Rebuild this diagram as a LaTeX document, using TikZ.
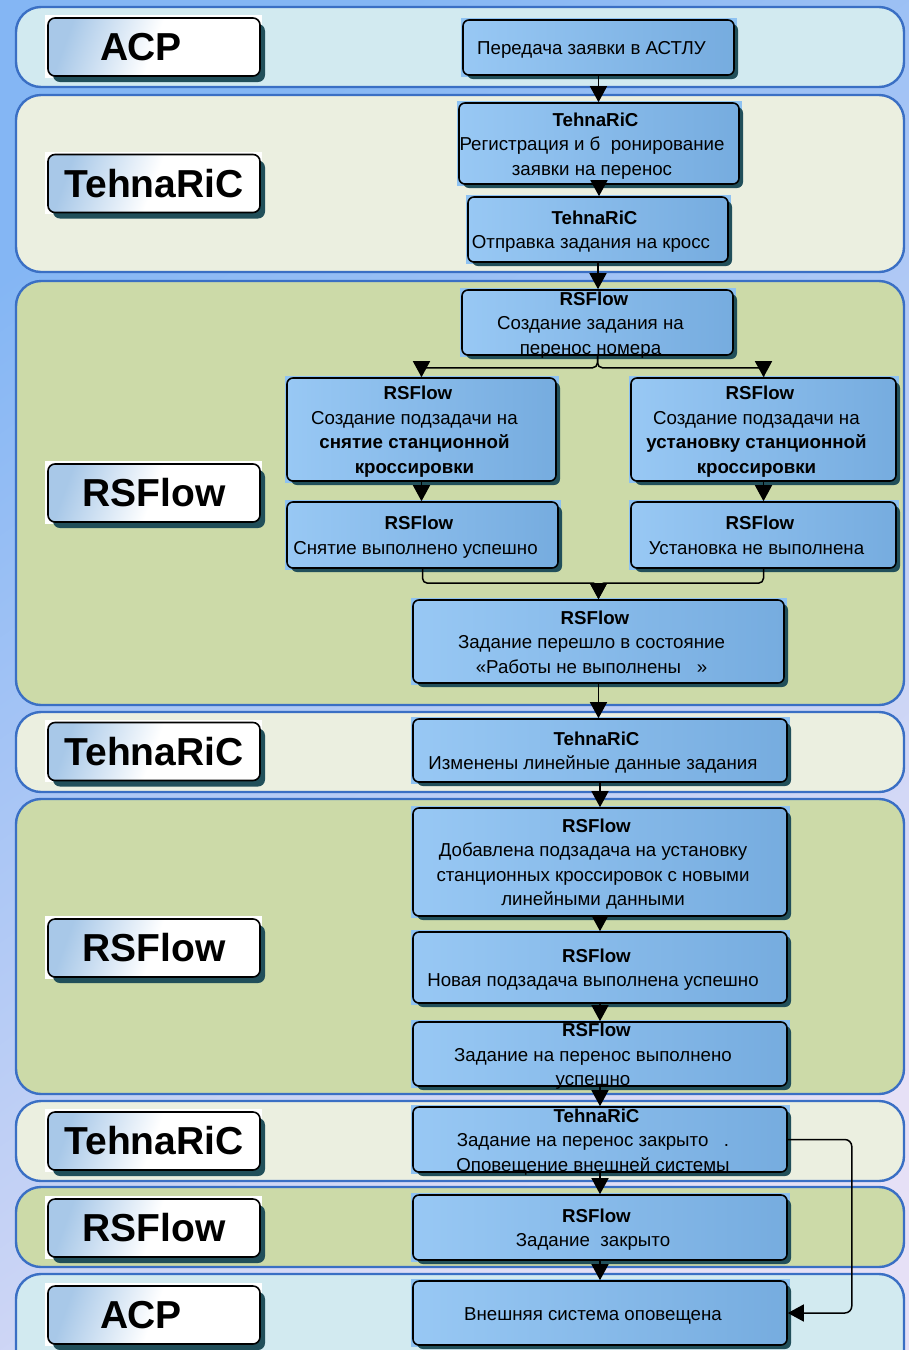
\documentclass[tikz,border=0pt]{standalone}
\usepackage{fontspec}
\setmainfont{Liberation Sans}
\usetikzlibrary{shadows,arrows.meta}
\pgfdeclarelayer{lanes}
\pgfdeclarelayer{glow}
\pgfsetlayers{lanes,glow,main}
\definecolor{bgA}{HTML}{84B6F4}
\definecolor{bgB}{HTML}{E6E0F6}
\definecolor{laneC}{HTML}{D2EAF0}
\definecolor{laneT}{HTML}{EBEFE0}
\definecolor{laneR}{HTML}{CCDAA8}
\definecolor{laneB}{HTML}{3A6FC4}
\definecolor{taskA}{HTML}{98C8F4}
\definecolor{taskB}{HTML}{76ACDF}
\definecolor{shad}{HTML}{214F5A}
\definecolor{glowc}{HTML}{8EC2F2}
\definecolor{labA}{HTML}{A8C8E8}
\newcommand\ttlline[1]{\textbf{#1}\kern-7pt}
\tikzset{
  lane/.style={draw=laneB, line width=2.4pt, rounded corners=25pt},
  task/.style={draw=black, line width=1.6pt, rounded corners=6pt,
    left color=taskA, right color=taskB,
    general shadow={fill=shad, shadow xshift=4pt, shadow yshift=-4pt},
    inner sep=0pt},
  txt/.style={align=center, inner sep=0pt, xshift=-7pt, yshift=-2.5pt,
    font=\fontsize{18.7}{24.5}\selectfont,
    execute at begin node={\rule{0pt}{13.5pt}},
    execute at end node={\rule[-4.2pt]{0pt}{4.2pt}}},
  lab/.style={draw=black, line width=1.6pt, rounded corners=7pt,
    top color=labA, bottom color=white, middle color=white, shading angle=70,
    general shadow={fill=shad, shadow xshift=5pt, shadow yshift=-6pt},
    minimum width=212pt, minimum height=58pt, inner sep=0pt,
    font=\bfseries\fontsize{39}{40}\selectfont},
  arr/.style={draw=black, line width=1.5pt, rounded corners=5pt,
    -{Triangle[length=16pt,width=17pt]}},
}
\begin{document}
\begin{tikzpicture}[x=1pt,y=-1pt]
\useasboundingbox (0,0) rectangle (909,1350);
\begin{pgfonlayer}{lanes}
\shade[top color=bgA, bottom color=bgB, shading angle=35] (0,0) rectangle (909,1350);
\draw[lane, fill=laneC] (16,7) rectangle (904,87);
\draw[lane, fill=laneT] (16,95) rectangle (904,272);
\draw[lane, fill=laneR] (16,281) rectangle (904,705);
\draw[lane, fill=laneT] (16,712) rectangle (904,792);
\draw[lane, fill=laneR] (16,799) rectangle (904,1094);
\draw[lane, fill=laneT] (16,1101) rectangle (904,1181);
\draw[lane, fill=laneR] (16,1187) rectangle (904,1267);
\draw[lane, fill=laneC] (16,1274) rectangle (904,1390);
\end{pgfonlayer}

% lane labels
\node[lab] (l1) at (154,47) {АСР\kern26pt};
\node[lab] (l2) at (154,183.5) {TehnaRiC};
\node[lab] (l3) at (154,493) {RSFlow};
\node[lab] (l4) at (154,751.5) {TehnaRiC};
\node[lab] (l5) at (154,948) {RSFlow};
\node[lab] (l6) at (154,1141) {TehnaRiC};
\node[lab] (l7) at (154,1228) {RSFlow};
\node[lab] (l8) at (154,1315) {АСР\kern26pt};

% tasks
\node[task, minimum width=271pt, minimum height=55pt, label={[txt]center:{Передача заявки в АСТЛУ}}] (b1) at (598.5,47.5) {};
\node[task, minimum width=280pt, minimum height=81pt, label={[txt]center:{\ttlline{TehnaRiC}\\Регистрация и б~~ронирование\\заявки на перенос}}] (b2) at (599,143.5) {};
\node[task, minimum width=260pt, minimum height=65pt, label={[txt]center:{\ttlline{TehnaRiC}\\Отправка задания на кросс}}] (b3) at (598,229.5) {};
\node[task, minimum width=271pt, minimum height=65pt, label={[txt]center:{\ttlline{RSFlow}\\Создание задания на\\перенос номера}}] (b4) at (597.5,322.5) {};
\node[task, minimum width=269pt, minimum height=103pt, label={[txt]center:{\ttlline{RSFlow}\\Создание подзадачи на\\\textbf{снятие станционной}\\\textbf{кроссировки}}}] (b5) at (421.5,429.5) {};
\node[task, minimum width=265pt, minimum height=103pt, label={[txt]center:{\ttlline{RSFlow}\\Создание подзадачи на\\\textbf{установку станционной}\\\textbf{кроссировки}}}] (b6) at (763.5,429.5) {};
\node[task, minimum width=271pt, minimum height=66pt, label={[txt]center:{\ttlline{RSFlow}\\Снятие выполнено успешно}}] (b7) at (422.5,535) {};
\node[task, minimum width=265pt, minimum height=66pt, label={[txt]center:{\ttlline{RSFlow}\\Установка не выполнена}}] (b8) at (763.5,535) {};
\node[task, minimum width=371pt, minimum height=83pt, label={[txt]center:{\ttlline{RSFlow}\\Задание перешло в состояние\\«Работы не выполнены~~~»}}] (b9) at (598.5,641.5) {};
\node[task, minimum width=374pt, minimum height=63pt, label={[txt]center:{\ttlline{TehnaRiC}\\Изменены линейные данные задания}}] (b10) at (600,750.5) {};
\node[task, minimum width=374pt, minimum height=108pt, label={[txt]center:{\ttlline{RSFlow}\\Добавлена подзадача на установку\\станционных кроссировок с новыми\\линейными данными}}] (b11) at (600,862) {};
\node[task, minimum width=374pt, minimum height=71pt, label={[txt]center:{\ttlline{RSFlow}\\Новая подзадача выполнена успешно}}] (b12) at (600,967.5) {};
\node[task, minimum width=374pt, minimum height=64pt, label={[txt]center:{\ttlline{RSFlow}\\Задание на перенос выполнено\\успешно}}] (b13) at (600,1054) {};
\node[task, minimum width=374pt, minimum height=65pt, label={[txt]center:{\ttlline{TehnaRiC}\\Задание на перенос закрыто~~~.\\Оповещение внешней системы}}] (b14) at (600,1139.5) {};
\node[task, minimum width=374pt, minimum height=65pt, label={[txt]center:{\ttlline{RSFlow}\\Задание~~закрыто}}] (b15) at (600,1227.5) {};
\node[task, minimum width=374pt, minimum height=64pt, label={[txt]center:{Внешняя система оповещена}}] (b16) at (600,1313) {};

\begin{pgfonlayer}{glow}
\foreach \n in {b1,b2,b3,b4,b5,b6,b7,b8,b9,b10,b11,b12,b13,b14,b15,b16}{
  \fill[glowc] ([shift={(-1.5pt,1.5pt)}]\n.north west) rectangle ([shift={(2.5pt,-1pt)}]\n.south east);
}
\foreach \n in {l1,l2,l3,l4,l5,l6,l7,l8}{
  \fill[white] ([shift={(-2pt,2pt)}]\n.north west) rectangle ([shift={(1.5pt,-1pt)}]\n.south east);
}
\end{pgfonlayer}

% connectors
\draw[arr] (b1.south) -- (b1.south |- b2.north);
\draw[arr] (b2.south) -- (b2.south |- b3.north);
\draw[arr] (b3.south) -- (b3.south |- b4.north);
\draw[arr] (b4.south) -- ([yshift=-12pt]b4.south) -| (b5.north);
\draw[arr] (b4.south) -- ([yshift=-12pt]b4.south) -| (b6.north);
\draw[arr] (b5.south) -- (b5.south |- b7.north);
\draw[arr] (b6.south) -- (b6.south |- b8.north);
\draw[arr] (b7.south) |- ([yshift=16pt]b9.north) -- (b9.north);
\draw[arr] (b8.south) |- ([yshift=16pt]b9.north) -- (b9.north);
\draw[arr] (b9.south) -- (b9.south |- b10.north);
\draw[arr] (b10.south) -- (b11.north);
\draw[arr] (b11.south) -- (b12.north);
\draw[arr] (b12.south) -- (b13.north);
\draw[arr] (b13.south) -- (b14.north);
\draw[arr] (b14.south) -- (b15.north);
\draw[arr] (b15.south) -- (b16.north);
\draw[arr, rounded corners=7pt] (b14.east) -- ++(64,0) |- (b16.east);
\end{tikzpicture}
\end{document}
